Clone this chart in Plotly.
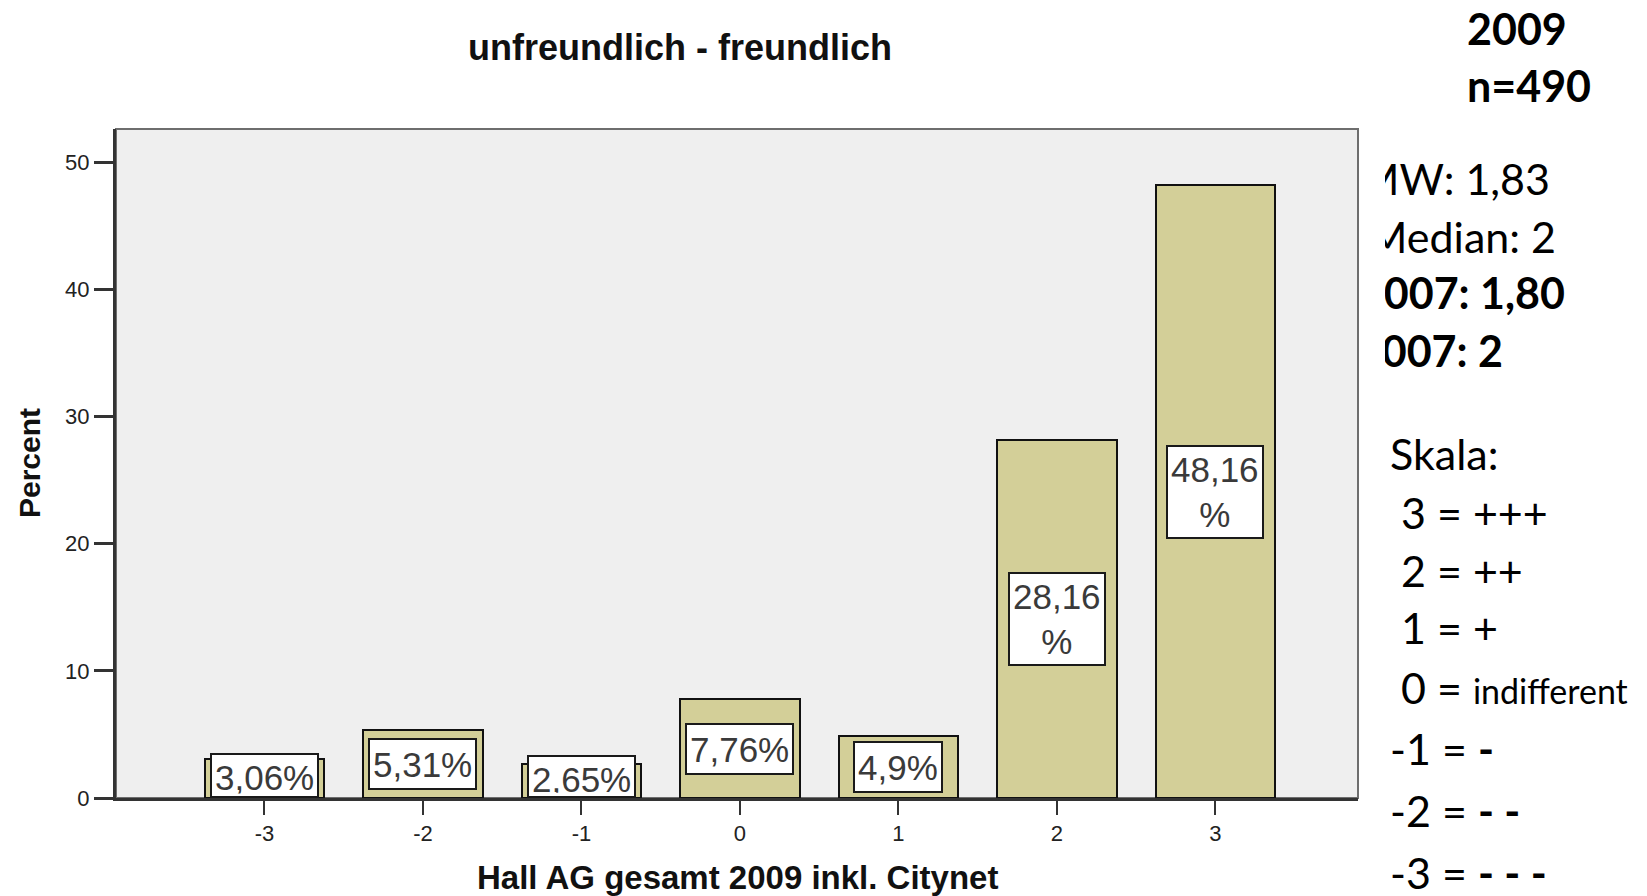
import plotly.graph_objects as go

# data
categories = [-3, -2, -1, 0, 1, 2, 3]
percent = [3.06, 5.31, 2.65, 7.76, 4.9, 28.16, 48.16]
bar_labels = ["3,06%", "5,31%", "2,65%", "7,76%", "4,9%", "28,16<br>%", "48,16<br>%"]
y_ticks = [0, 10, 20, 30, 40, 50]

title_text = "unfreundlich - freundlich"
x_title = "Hall AG gesamt 2009 inkl. Citynet"
y_title = "Percent"

header_lines = ["<b>2009</b>", "<b>n=490</b>"]
stats_lines = ["MW: 1,83", "Median: 2", "<b>MW 2007: 1,80</b>", "<b>Median 2007: 2</b>"]
scale_lines = ["Skala:", "\u00a03 = +++", "\u00a02 = ++", "\u00a01 = +",
               "\u00a00 = <span style='font-size:34px'>indifferent</span>",
               "-1 = <b>-</b>", "-2 = <b>- -</b>", "-3 = <b>- - -</b>"]

# the page body has an 8px margin, so the figure is a bit smaller than the window
OFF = 8
W, H = 1647 - OFF, 896 - OFF
L, R, T, B = 108, 289, 121, 98
YMAX = 52.6
ppu = (H - T - B) / YMAX


# positions below are given in window pixels
def px_x(px):
    return (px - OFF - L) / (W - L - R)


def px_y(py):
    return (H - B - (py - OFF)) / (H - T - B)


fig = go.Figure()
fig.add_trace(go.Bar(
    x=categories, y=percent, width=0.755,
    marker=dict(color="#d3cf98", line=dict(color="#111111", width=2)),
    hoverinfo="x+y",
))

annotations = []

# value boxes in the middle of the bars, cut off at the axis like in SPSS
bw, bp = 2, 3
bf = bw + bp
for cat, v, lab in zip(categories, percent, bar_labels):
    nlines = lab.count("<br>") + 1
    h = 42 + 42 * (nlines - 1)
    half = (h + 2 * bf) / 2
    mid_px = v / 2 * ppu
    ann = dict(x=cat, y=v / 2, xref="x", yref="y", text=lab, showarrow=False,
               font=dict(family="Liberation Sans, Arial", size=35, color="#3a3a3a"),
               bgcolor="white", bordercolor="#1a1a1a", borderwidth=bw, borderpad=bp,
               xanchor="center", yanchor="middle", height=h)
    if mid_px < half:
        ann.update(y=0, yanchor="bottom", height=mid_px + half - 2 * bf, valign="top")
    annotations.append(ann)

# titles
annotations.append(dict(x=px_x(680), y=px_y(47), xref="paper", yref="paper",
                        text="<b>" + title_text + "</b>", showarrow=False,
                        xanchor="center", yanchor="middle",
                        font=dict(family="Liberation Sans, Arial", size=36, color="#111")))
annotations.append(dict(x=px_x(737), y=px_y(877), xref="paper", yref="paper",
                        text="<b>" + x_title + "</b>", showarrow=False,
                        xanchor="center", yanchor="middle",
                        font=dict(family="Liberation Sans, Arial", size=33, color="#111")))
annotations.append(dict(x=px_x(29), y=px_y(463), xref="paper", yref="paper",
                        text="<b>" + y_title + "</b>", showarrow=False, textangle=-90,
                        xanchor="center", yanchor="middle",
                        font=dict(family="Liberation Sans, Arial", size=30, color="#111")))

side_font = dict(family="Lato, Carlito, Calibri", size=43, color="black")

for txt, yc in zip(header_lines, [28, 85]):
    annotations.append(dict(x=px_x(1467), y=px_y(yc), xref="paper", yref="paper",
                            text=txt, showarrow=False, xanchor="left", yanchor="middle",
                            height=38, font=side_font, borderwidth=0, borderpad=0))

# these lines are partly hidden behind the chart picture on the slide
cut = 1385
for txt, yc, right in zip(stats_lines, [178, 236, 292, 350], [1550, 1556, 1565, 1503]):
    annotations.append(dict(x=px_x(cut), y=px_y(yc), xref="paper", yref="paper",
                            text=txt, showarrow=False, xanchor="left", yanchor="middle",
                            align="right", width=right - cut, height=46,
                            font=side_font, borderwidth=0, borderpad=0))

for txt, yc in zip(scale_lines, [453, 512, 570, 627, 687, 748, 810, 872]):
    annotations.append(dict(x=px_x(1390), y=px_y(yc), xref="paper", yref="paper",
                            text=txt, showarrow=False, xanchor="left", yanchor="middle",
                            height=44, font=side_font, borderwidth=0, borderpad=0))

fig.update_layout(
    width=W, height=H,
    margin=dict(l=L, r=R, t=T, b=B, pad=0),
    paper_bgcolor="white", plot_bgcolor="#efefef",
    showlegend=False,
    bargap=0,
    annotations=annotations,
    shapes=[dict(type="rect", xref="paper", yref="paper", x0=0, x1=1, y0=0, y1=1,
                 line=dict(color="#6e6e6e", width=2), layer="below")],
    xaxis=dict(range=[-3.937, 3.9], tickvals=categories, ticktext=[str(c) for c in categories],
               showgrid=False, zeroline=False, showline=True, linecolor="#333", linewidth=3,
               ticks="outside", ticklen=14, tickwidth=2, tickcolor="#333",
               tickfont=dict(family="Liberation Sans, Arial", size=22, color="#222")),
    yaxis=dict(range=[0, YMAX], tickvals=y_ticks, showgrid=False, zeroline=False,
               showline=True, linecolor="#333", linewidth=3,
               ticks="outside", ticklen=19, tickwidth=3, tickcolor="#333",
               tickfont=dict(family="Liberation Sans, Arial", size=22, color="#222")),
)

fig.write_html("out.html")
